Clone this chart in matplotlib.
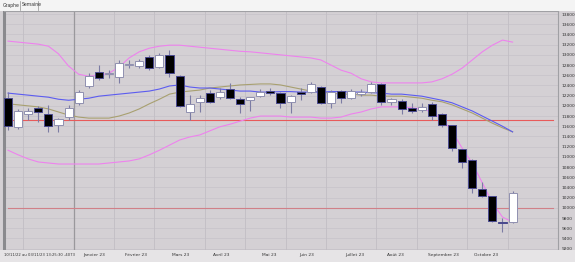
import matplotlib

matplotlib.use("Agg")
import matplotlib.pyplot as plt
from matplotlib.patches import Rectangle
from matplotlib.lines import Line2D

# weekly candles, 10/11/22 -> 03/11/23
opens = [12150, 11590, 11840, 11960, 11840, 11620, 11780, 12060, 12390, 12660,
         12620, 12570, 12800, 12780, 12960, 12760, 13000, 12580, 11880, 12080,
         12250, 12170, 12330, 12130, 12110, 12190, 12290, 12250, 12080, 12270,
         12270, 12370, 12060, 12290, 12150, 12230, 12270, 12430, 12080, 12100,
         11960, 11920, 12040, 11840, 11620, 11150, 10940, 10370, 10230, 9720, 9720]
highs = [12270, 11940, 11960, 12000, 12020, 11760, 12020, 12310, 12640, 12800,
         12700, 12900, 12900, 12920, 13000, 13040, 13090, 12600, 12210, 12210,
         12310, 12350, 12450, 12170, 12180, 12330, 12350, 12270, 12210, 12350,
         12470, 12380, 12310, 12310, 12330, 12330, 12470, 12450, 12150, 12130,
         12060, 12060, 12080, 11860, 11630, 11160, 10950, 10510, 10240, 9800, 10330]
lows = [11530, 11550, 11720, 11680, 11490, 11490, 11720, 12020, 12350, 12510,
        12550, 12450, 12740, 12740, 12700, 12740, 12570, 11980, 11720, 11880,
        12060, 12130, 12130, 11860, 11900, 12170, 12210, 11960, 11860, 12110,
        12260, 12040, 11960, 12060, 12130, 12190, 12250, 12020, 12020, 11840,
        11860, 11880, 11720, 11590, 11120, 10780, 10290, 10220, 9720, 9530, 9710]
closes = [11600, 11900, 11900, 11880, 11600, 11740, 11960, 12270, 12580, 12550,
          12630, 12840, 12810, 12880, 12740, 13000, 12640, 12000, 12040, 12150,
          12080, 12270, 12150, 12040, 12170, 12270, 12250, 12060, 12190, 12230,
          12430, 12060, 12270, 12150, 12290, 12270, 12430, 12080, 12130, 11940,
          11900, 11980, 11800, 11620, 11170, 10900, 10390, 10230, 9740, 9700, 10290]

ma_blue = [12250, 12230, 12210, 12190, 12170, 12130, 12110, 12130, 12150, 12190,
           12210, 12230, 12250, 12270, 12290, 12330, 12390, 12410, 12370, 12350,
           12350, 12330, 12310, 12290, 12290, 12270, 12270, 12280, 12280, 12270,
           12270, 12270, 12280, 12280, 12270, 12270, 12260, 12250, 12230, 12230,
           12210, 12190, 12150, 12110, 12060, 11980, 11900, 11800, 11700, 11600, 11490]
ma_olive = [12040, 12020, 12000, 11980, 11940, 11880, 11820, 11780, 11760, 11760,
            11760, 11800, 11860, 11940, 12040, 12130, 12230, 12270, 12290, 12310,
            12350, 12370, 12390, 12410, 12420, 12430, 12430, 12410, 12370, 12330,
            12290, 12270, 12250, 12230, 12230, 12210, 12210, 12190, 12190, 12190,
            12170, 12150, 12110, 12080, 12020, 11940, 11860, 11760, 11660, 11570, 11490]
band_up = [13270, 13250, 13230, 13210, 13170, 13020, 12780, 12620, 12580, 12600,
           12640, 12760, 12940, 13060, 13130, 13170, 13190, 13190, 13170, 13150,
           13130, 13110, 13090, 13070, 13060, 13040, 13020, 13000, 12980, 12960,
           12940, 12900, 12800, 12700, 12640, 12530, 12470, 12450, 12450, 12450,
           12450, 12450, 12470, 12530, 12620, 12740, 12900, 13060, 13190, 13290, 13250]
band_low = [11130, 11040, 10960, 10900, 10880, 10860, 10860, 10860, 10860, 10860,
            10880, 10900, 10920, 10960, 11040, 11130, 11230, 11330, 11390, 11430,
            11510, 11590, 11640, 11700, 11760, 11800, 11800, 11800, 11780, 11780,
            11780, 11760, 11760, 11780, 11840, 11880, 11940, 11980, 11980, 11980,
            11960, 11940, 11880, 11740, 11510, 11170, 10880, 10490, 10100, 9820, 9720]

ref_level = 11720
cursor_level = 10000
cursor_week = 6.5

# month boundaries (between weekly candles) and label anchors
month_edges = [1.5, 6.5, 10.5, 14.5, 19.5, 23.5, 27.5, 31.5, 36.5, 40.5, 45.5, 49.5]
month_labels = ["Janvier 23", "Février 23", "Mars 23", "Avril 23", "Mai 23",
                "Juin 23", "Juillet 23", "Août 23", "Septembre 23", "Octobre 23"]
month_label_pos = [7.5, 11.6, 16.2, 20.3, 25.2, 28.9, 33.4, 37.6, 41.6, 46.2]
period_text = "10/11/22 au 03/11/23 13:25:30 -4073"
y_ticks = list(range(9200, 13801, 200))

W, H = 575, 262
fig = plt.figure(figsize=(W / 100, H / 100), dpi=100)
fig.patch.set_facecolor("#d4d0d4")

# top tab strip and bottom label strip
fig.patches.append(Rectangle((0, 1 - 11 / H), 1, 11 / H, transform=fig.transFigure,
                             facecolor="#f4f4f4", edgecolor="none", zorder=0))
fig.patches.append(Rectangle((0, 0), 1, 12 / H, transform=fig.transFigure,
                             facecolor="#e6e4e6", edgecolor="none", zorder=0))
fig.text(3 / W, 1 - 5 / H, "Graphe", fontsize=3.3, va="center", color="#333333")
fig.text(22 / W, 1 - 5 / H, "Semaine", fontsize=3.3, va="center", color="#333333")
for xs in (20, 38):
    fig.add_artist(Line2D([xs / W, xs / W], [1 - 10 / H, 1 - 1 / H],
                          transform=fig.transFigure, color="#909090", lw=0.5))

ax = fig.add_axes([4 / W, 12 / H, (558 - 4) / W, (250 - 11) / H])
ax.set_facecolor("#d4d0d4")
ax.set_xlim(-0.4, 54.5)
ax.set_ylim(9174, 13860)

for v in y_ticks:
    ax.axhline(v, color="#c9c5cb", lw=0.6, zorder=0)
for m in month_edges:
    ax.axvline(m, color="#c2bec4", lw=0.6, zorder=0)
ax.axvline(cursor_week, color="#9a989c", lw=0.9, zorder=1)

ax.plot([0, 54], [ref_level, ref_level], color="#e85a5a", lw=0.8, zorder=2)
ax.plot([0, 54], [cursor_level, cursor_level], color="#d08088", lw=0.8, zorder=2)

xs = list(range(len(opens)))
ax.plot(xs, band_up, color="#ee82ee", lw=0.8, zorder=3)
ax.plot(xs, band_low, color="#ee82ee", lw=0.8, zorder=3)
ax.plot(xs, ma_olive, color="#a8a070", lw=0.8, zorder=3)
ax.plot(xs, ma_blue, color="#5c5cf0", lw=0.8, zorder=3)

ax.vlines(xs, lows, highs, color="#7c7ca4", lw=0.8, zorder=4)
for i in xs:
    o, c = opens[i], closes[i]
    up = c >= o
    bottom = min(o, c)
    height = max(abs(c - o), 15)
    ax.bar(i, height, bottom=bottom, width=0.8,
           color="white" if up else "black",
           edgecolor="#9090b0" if up else "#4a4a90", linewidth=0.7, zorder=5)

ax.set_xticks([])
ax.yaxis.tick_right()
ax.set_yticks(y_ticks)
ax.set_yticklabels([str(v) for v in y_ticks], fontsize=3.2, color="#333333")
ax.tick_params(axis="y", length=0, pad=2.5)
for s in ("top", "right", "bottom"):
    ax.spines[s].set_color("#a0a0a4")
    ax.spines[s].set_linewidth(0.8)
ax.spines["left"].set_color("#8a8a8e")
ax.spines["left"].set_linewidth(2.2)

ty = 1 - 255 / H
fig.text(4 / W, ty, period_text, fontsize=2.7, va="center", color="#333333")
to_fig = lambda xv: (ax.transData.transform((xv, 0))[0]) / W
for lab, pos in zip(month_labels, month_label_pos):
    fig.text(to_fig(pos), ty, lab, fontsize=3.2, va="center", color="#333333")

fig.savefig("out.png", dpi=100, facecolor=fig.get_facecolor())
